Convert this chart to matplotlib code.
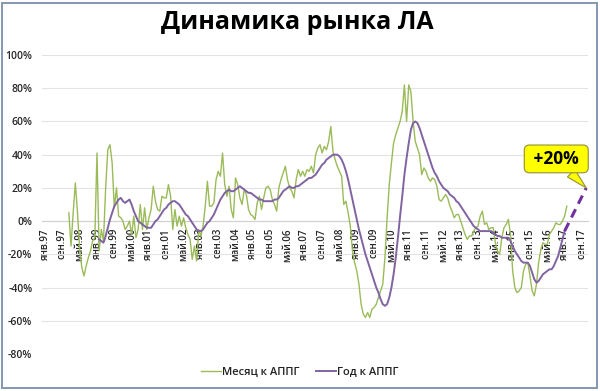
import matplotlib
matplotlib.use('Agg')
import matplotlib.pyplot as plt
import numpy as np
from matplotlib.patches import Rectangle

plt.rcParams['font.family'] = ['Open Sans', 'DejaVu Sans']

# ------------------------------------------------------------
# Данные: индекс месяца от янв.97 (0)
# ------------------------------------------------------------
month_names = ['янв', 'фев', 'мар', 'апр', 'май', 'июн',
               'июл', 'авг', 'сен', 'окт', 'ноя', 'дек']

# Месяц к АППГ, %, с дек.97 (m=11) по фев.17 (m=241)
green_start = 11
green_vals = [
    5, -15, 5, 23, 5, -17, -28, -33, -27, -22, -18, -12, -10,          # 97-98
    41, -18, -5, -12, 20, 43, 46, 35, 8, 20, 3, 2,                      # 99
    0, -5, -3, 0, -8, 3, -10, -5, 10, -5, 8, -5,                        # 00
    2, 7, 21, 12, 7, 6, 15, 14, 14, 22, 15, -5,                         # 01
    7, -3, 3, -3, 2, -4, -8, -11, -23, -15, -24, -5,                    # 02
    -9, -3, 9, 24, 9, 9, 11, 25, 30, 27, 41, 22,                        # 03
    15, 21, 7, 2, 26, 22, 14, 10, 19, 16, 7, 4,                         # 04
    3, 1, 11, 15, 7, 14, 20, 21, 19, 13, 10, 6,                         # 05
    20, 25, 29, 33, 25, 20, 18, 14, 25, 31, 27, 30,                     # 06
    27, 31, 30, 33, 29, 40, 44, 46, 41, 45, 43, 48,                     # 07
    57, 42, 37, 33, 30, 27, 10, 12, 5, -3, -18, -25,                    # 08
    -30, -38, -50, -56, -58, -55, -58, -53, -52, -50, -46, -42,         # 09
    -38, -22, 2, 22, 35, 47, 52, 56, 60, 66, 82, 60,                    # 10
    82, 78, 60, 48, 44, 40, 28, 32, 30, 26, 24, 26,                     # 11
    25, 21, 13, 12, 14, 16, 14, 9, 6, 2, 4, 4,                          # 12
    0, -4, -8, -11, -9, -9, -6, -4, -3, 3, 6, -2,                       # 13
    -1, -5, -4, -4, -13, -18, -20, -10, -4, -2, 1, -8,                  # 14
    -30, -40, -43, -42, -40, -30, -26, -25, -33, -42, -45, -38,         # 15
    -25, -17, -13, -14, -14, -8, -6, -4, -1, -2, -2, 0,                 # 16
    3, 9,                                                                # 17
]

# Год к АППГ, %, с фев.99 (m=25) по янв.17 (m=240)
purple_start = 25
purple_vals = [
    -11, -12, -13, -9, -4, 1, 5, 9, 11, 13, 14,                         # 99
    12, 11, 12, 13, 10, 6, 3, 0, -1, -2, -3, -4,                        # 00
    -4, -4, -2, 0, 1, 3, 5, 7, 8, 10, 11, 12,                           # 01
    12, 11, 10, 8, 6, 4, 3, 1, -1, -3, -5, -6,                          # 02
    -6, -5, -3, -1, 0, 2, 4, 7, 10, 13, 15, 17,                         # 03
    18, 19, 18, 18, 19, 20, 21, 20, 19, 18, 17, 17,                     # 04
    16, 15, 14, 13, 13, 12, 12, 12, 12, 12, 13, 13,                     # 05
    14, 16, 18, 19, 20, 21, 20, 20, 21, 21, 22, 23,                     # 06
    24, 25, 26, 26, 27, 28, 30, 32, 34, 35, 37, 38,                     # 07
    39, 40, 40, 40, 39, 37, 34, 30, 25, 19, 13, 7,                      # 08
    1, -5, -10, -15, -20, -24, -28, -32, -36, -40, -43, -47,            # 09
    -50, -51, -50, -46, -40, -32, -22, -10, 3, 15, 28, 38,              # 10
    47, 55, 59, 60, 59, 56, 52, 48, 44, 40, 36, 32,                     # 11
    29, 27, 24, 22, 20, 19, 18, 16, 15, 14, 12, 11,                     # 12
    9, 7, 5, 3, 1, -1, -3, -4, -5, -6, -6, -6,                          # 13
    -6, -6, -6, -7, -8, -9, -9, -10, -10, -10, -10, -12,                # 14
    -15, -18, -20, -22, -24, -25, -25, -25, -27, -31, -35, -37,         # 15
    -36, -34, -32, -31, -30, -29, -29, -27, -24, -21, -16, -11,         # 16
    -6,                                                                  # 17
]

# Прогноз (пунктир): от последней точки до ноя.17
forecast_months = [240, 250]
forecast_vals = [-6, 20]
forecast_label = ' +20% '

tick_months = list(range(0, 249, 8))
tick_labels = [f'{month_names[m % 12]}.{(97 + m // 12) % 100:02d}' for m in tick_months]
y_ticks = list(range(-80, 101, 20))

green_x = np.arange(green_start, green_start + len(green_vals))
purple_x = np.arange(purple_start, purple_start + len(purple_vals))

# ------------------------------------------------------------
# Рисунок
# ------------------------------------------------------------
fig = plt.figure(figsize=(6, 3.91), dpi=100)
ax = fig.add_axes([0.07, 0.0946, 0.91, 0.7647])

GREEN = '#9BBB59'
PURPLE = '#8064A2'

ax.plot(green_x, green_vals, color=GREEN, lw=1.0, label='Месяц к АППГ', zorder=3)
ax.plot(purple_x, purple_vals, color=PURPLE, lw=1.4, label='Год к АППГ', zorder=4)
ax.plot(forecast_months, forecast_vals, color='#7030A0', lw=2.2,
        dashes=(3, 2), zorder=4)

ax.set_xlim(-1.4, 250.8)
ax.set_ylim(-80, 100)

# ось X проходит через 0 (до настройки подписей — set_position сбрасывает тики)
for s in ['top', 'right', 'left']:
    ax.spines[s].set_visible(False)
ax.spines['bottom'].set_position(('data', 0))
ax.spines['bottom'].set_color('#D0D0D0')
ax.spines['bottom'].set_linewidth(0.8)

ax.set_yticks(y_ticks)
ax.set_yticklabels([f'{v}%' for v in y_ticks], fontweight='semibold')
ax.set_xticks(tick_months)
ax.set_xticklabels(tick_labels, fontweight='semibold')

ax.grid(axis='y', color='#E3E3E3', lw=0.8)
ax.set_axisbelow(True)
ax.tick_params(axis='y', length=0, pad=7, labelsize=7.5, labelcolor='#262626')
ax.tick_params(axis='x', length=0, pad=5, labelsize=7, labelcolor='#262626',
               labelrotation=90)

# выноска с прогнозом
ax.annotate(forecast_label, xy=(forecast_months[-1], forecast_vals[-1]),
            xytext=(-30, 29), textcoords='offset pixels',
            ha='center', va='center', fontsize=12.5, fontweight='bold', color='black',
            bbox=dict(boxstyle='round,pad=0.28,rounding_size=0.3', fc='#FFFF00',
                      ec='#9B9B3C', lw=0.9),
            arrowprops=dict(arrowstyle='wedge,tail_width=0.6,shrink_factor=0.5',
                            fc='#FFFF00', ec='#9B9B3C', lw=0.9, shrinkA=0, shrinkB=0),
            zorder=6)

fig.text(0.495, 0.943, 'Динамика рынка ЛА', ha='center', va='center',
         fontsize=18, fontweight='bold', color='black')

ax.legend(loc='center', ncol=2, frameon=False, handlelength=1.8,
          handletextpad=0.1, columnspacing=1.5,
          prop={'size': 8, 'weight': 'semibold'},
          bbox_to_anchor=(0.5, 1 - 372 / 391), bbox_transform=fig.transFigure)
for t in ax.get_legend().get_texts():
    t.set_color('#222222')

# рамка диаграммы
fig.patches.append(Rectangle((2 / 600, 1 - 388 / 391), 595 / 600, 385 / 391,
                             transform=fig.transFigure, fill=False,
                             ec='#8496B0', lw=1.4))

fig.savefig('out.png', dpi=100, facecolor='white')
